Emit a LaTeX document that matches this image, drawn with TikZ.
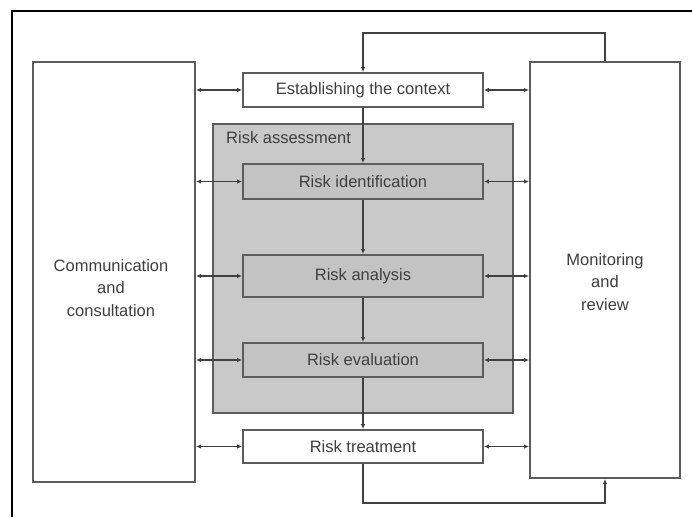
\documentclass[tikz,border=0pt]{standalone}
\usepackage{fontspec}
\setmainfont{Liberation Sans}
\usetikzlibrary{arrows.meta}
\definecolor{boxline}{HTML}{5C5C5C}
\definecolor{txtgray}{HTML}{3F3F3F}
\definecolor{assessfill}{HTML}{C9C9C9}
\definecolor{stepfill}{HTML}{C3C3C3}
\begin{document}
\begin{tikzpicture}[x=1pt,y=-1pt,
  every node/.style={font=\fontsize{16.5}{22.5}\selectfont,text=txtgray},
  sidebox/.style={draw=boxline,line width=2pt,fill=white,inner sep=0pt},
  stepbox/.style={draw=boxline,line width=1.8pt,minimum width=240pt,inner sep=0pt},
  link/.style={draw=black!75,line width=1.4pt},
  biarrow/.style={link,{Latex[length=5pt,width=4.5pt]}-{Latex[length=5pt,width=4.5pt]}},
  flow/.style={link,-{Latex[length=5pt,width=4.5pt]}}]
\useasboundingbox (0,0) rectangle (692,517);
% frame of the picture
\draw[black,line width=1.4pt] (12,517) -- (12,11) -- (692,11);
% side columns
\node[sidebox,minimum width=162pt,minimum height=420pt] (comm) at (114,272) {};
\node[align=center] (commtxt) at (111,288) {Communication\\and\\consultation};
\node[sidebox,minimum width=150pt,minimum height=416pt] (mon) at (605,270) {};
\node[align=center] (montxt) at (605,282) {Monitoring\\and\\review};
% risk assessment block
\node[draw=boxline,line width=2pt,fill=assessfill,minimum width=300pt,minimum height=289pt] (assess) at (363,268.5) {};
\node[anchor=west,inner sep=0pt] (assesslbl) at (226,138) {Risk assessment};
% process steps
\node[stepbox,fill=white,minimum height=34pt] (ctx) at (363,90) {Establishing the context};
\node[stepbox,fill=stepfill,minimum height=35pt] (ident) at (363,181.5) {Risk identification};
\node[stepbox,fill=stepfill,minimum height=42pt] (anal) at (363,276) {Risk analysis};
\node[stepbox,fill=stepfill,minimum height=34pt] (eval) at (363,360) {Risk evaluation};
\node[stepbox,fill=white,minimum height=33pt] (treat) at (363,446.5) {Risk treatment};
% main flow
\draw[flow] (ctx) -- (ident);
\draw[flow] (ident) -- (anal);
\draw[flow] (anal) -- (eval);
\draw[flow] (eval) -- (treat);
% links to both side columns
\foreach \s in {ctx,ident,anal,eval,treat} {
  \draw[biarrow] (comm.east |- \s.west) -- (\s.west);
  \draw[biarrow] (\s.east) -- (mon.west |- \s.east);
}
% feedback loops
\coordinate (topbend) at (605,33);
\coordinate (botbend) at (363,503);
\draw[flow] (mon.north) -- (topbend) -| (ctx.north);
\draw[flow] (treat.south) -- (botbend) -| (mon.south);
\end{tikzpicture}
\end{document}
